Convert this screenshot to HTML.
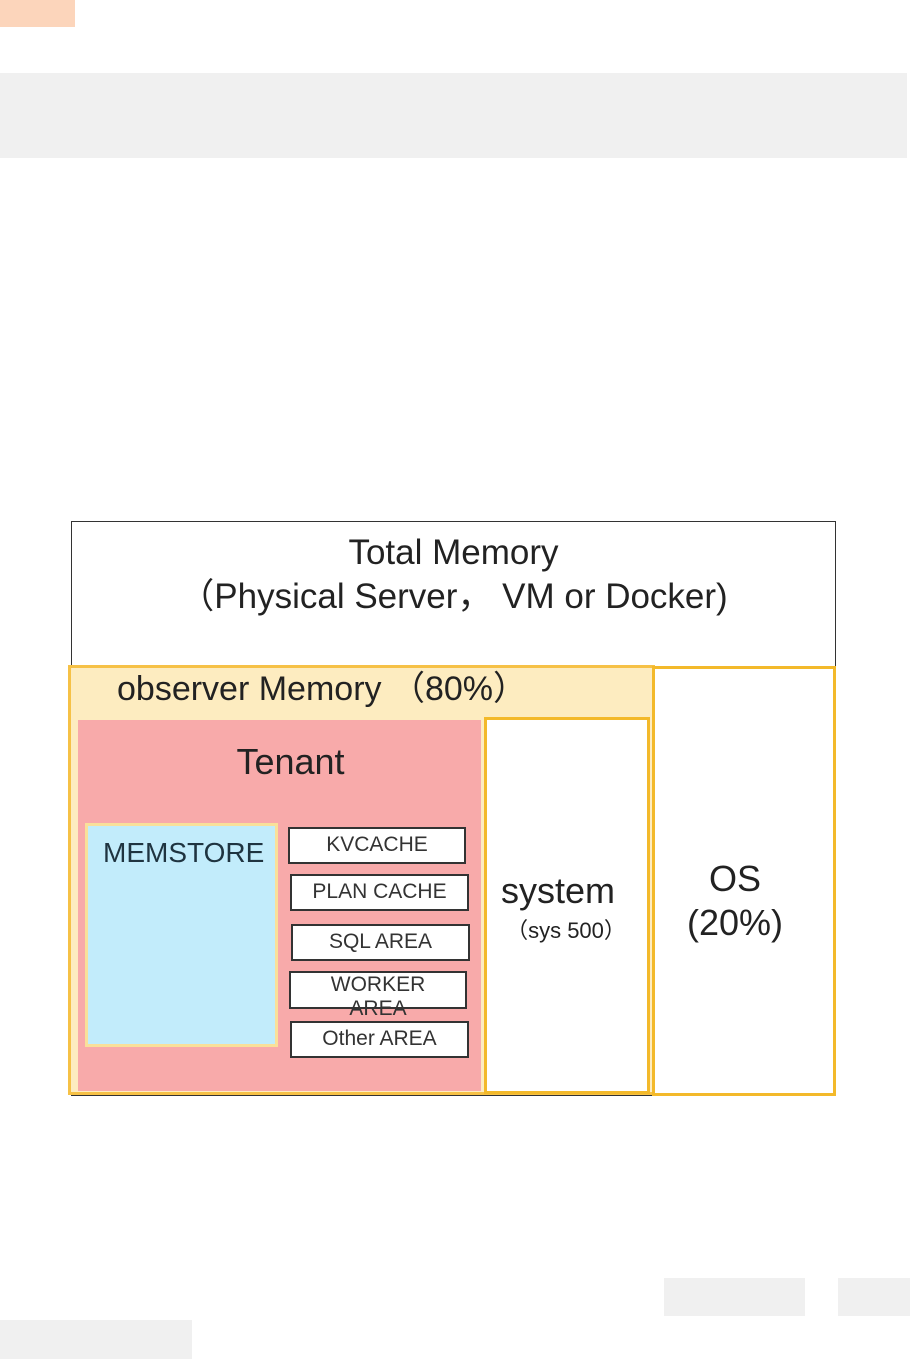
<!DOCTYPE html>
<html><head><meta charset="utf-8"><style>
body{margin:0;width:910px;height:1359px;background:#fff;position:relative;overflow:hidden;font-family:"Liberation Sans","Noto Sans CJK SC",sans-serif;color:#222}
div{position:absolute;box-sizing:border-box}
.t{text-align:center;white-space:nowrap}
.sm{background:#fff;border:2px solid #333;font-size:21px;text-align:center;line-height:32px;color:#333}
</style></head><body>
<div style="left:0;top:0;width:75px;height:27px;background:#fcd5bb"></div>
<div style="left:0;top:73px;width:907px;height:85px;background:#f0f0f0"></div>
<div style="left:664px;top:1278px;width:141px;height:38px;background:#f0f0f0"></div>
<div style="left:838px;top:1278px;width:72px;height:38px;background:#f0f0f0"></div>
<div style="left:0;top:1320px;width:192px;height:39px;background:#f0f0f0"></div>

<div style="left:71px;top:521px;width:765px;height:575px;border:1.5px solid #333"></div>
<div class="t" style="left:71px;top:531px;width:765px;font-size:35px;line-height:44px">Total Memory<br>（Physical Server，&nbsp;VM or Docker)</div>

<div style="left:68px;top:665px;width:587px;height:430px;border:3px solid #f6c146;background:#fdecc0"></div>
<div class="t" style="left:117px;top:668px;font-size:34px;line-height:42px">observer Memory （80%）</div>
<div style="left:78px;top:720px;width:403px;height:371px;background:#f8aaaa"></div>
<div class="t" style="left:78px;top:741px;width:425px;font-size:36px">Tenant</div>
<div style="left:85px;top:823px;width:193px;height:224px;background:#c2ecfb;border:3px solid #f9e09a"></div>
<div class="t" style="left:103px;top:837px;font-size:28px;color:#1f3440">MEMSTORE</div>
<div class="sm" style="left:288px;top:827px;width:178px;height:37px">KVCACHE</div>
<div class="sm" style="left:290px;top:874px;width:179px;height:37px">PLAN CACHE</div>
<div class="sm" style="left:291px;top:924px;width:179px;height:37px">SQL AREA</div>
<div class="sm" style="left:289px;top:971px;width:178px;height:38px;line-height:24px">WORKER<br>AREA</div>
<div class="sm" style="left:290px;top:1021px;width:179px;height:37px">Other AREA</div>

<div style="left:484px;top:717px;width:166px;height:377px;border:3.5px solid #f3b92a;background:#fff"></div>
<div class="t" style="left:484px;top:870px;width:148px;font-size:36px">system</div>
<div class="t" style="left:484px;top:913px;width:164px;font-size:22px">（sys 500）</div>

<div style="left:652px;top:666px;width:184px;height:430px;border:3.5px solid #f3b92a;background:#fff"></div>
<div class="t" style="left:652px;top:857px;width:166px;font-size:36px;line-height:44px">OS<br>(20%)</div>
</body></html>
